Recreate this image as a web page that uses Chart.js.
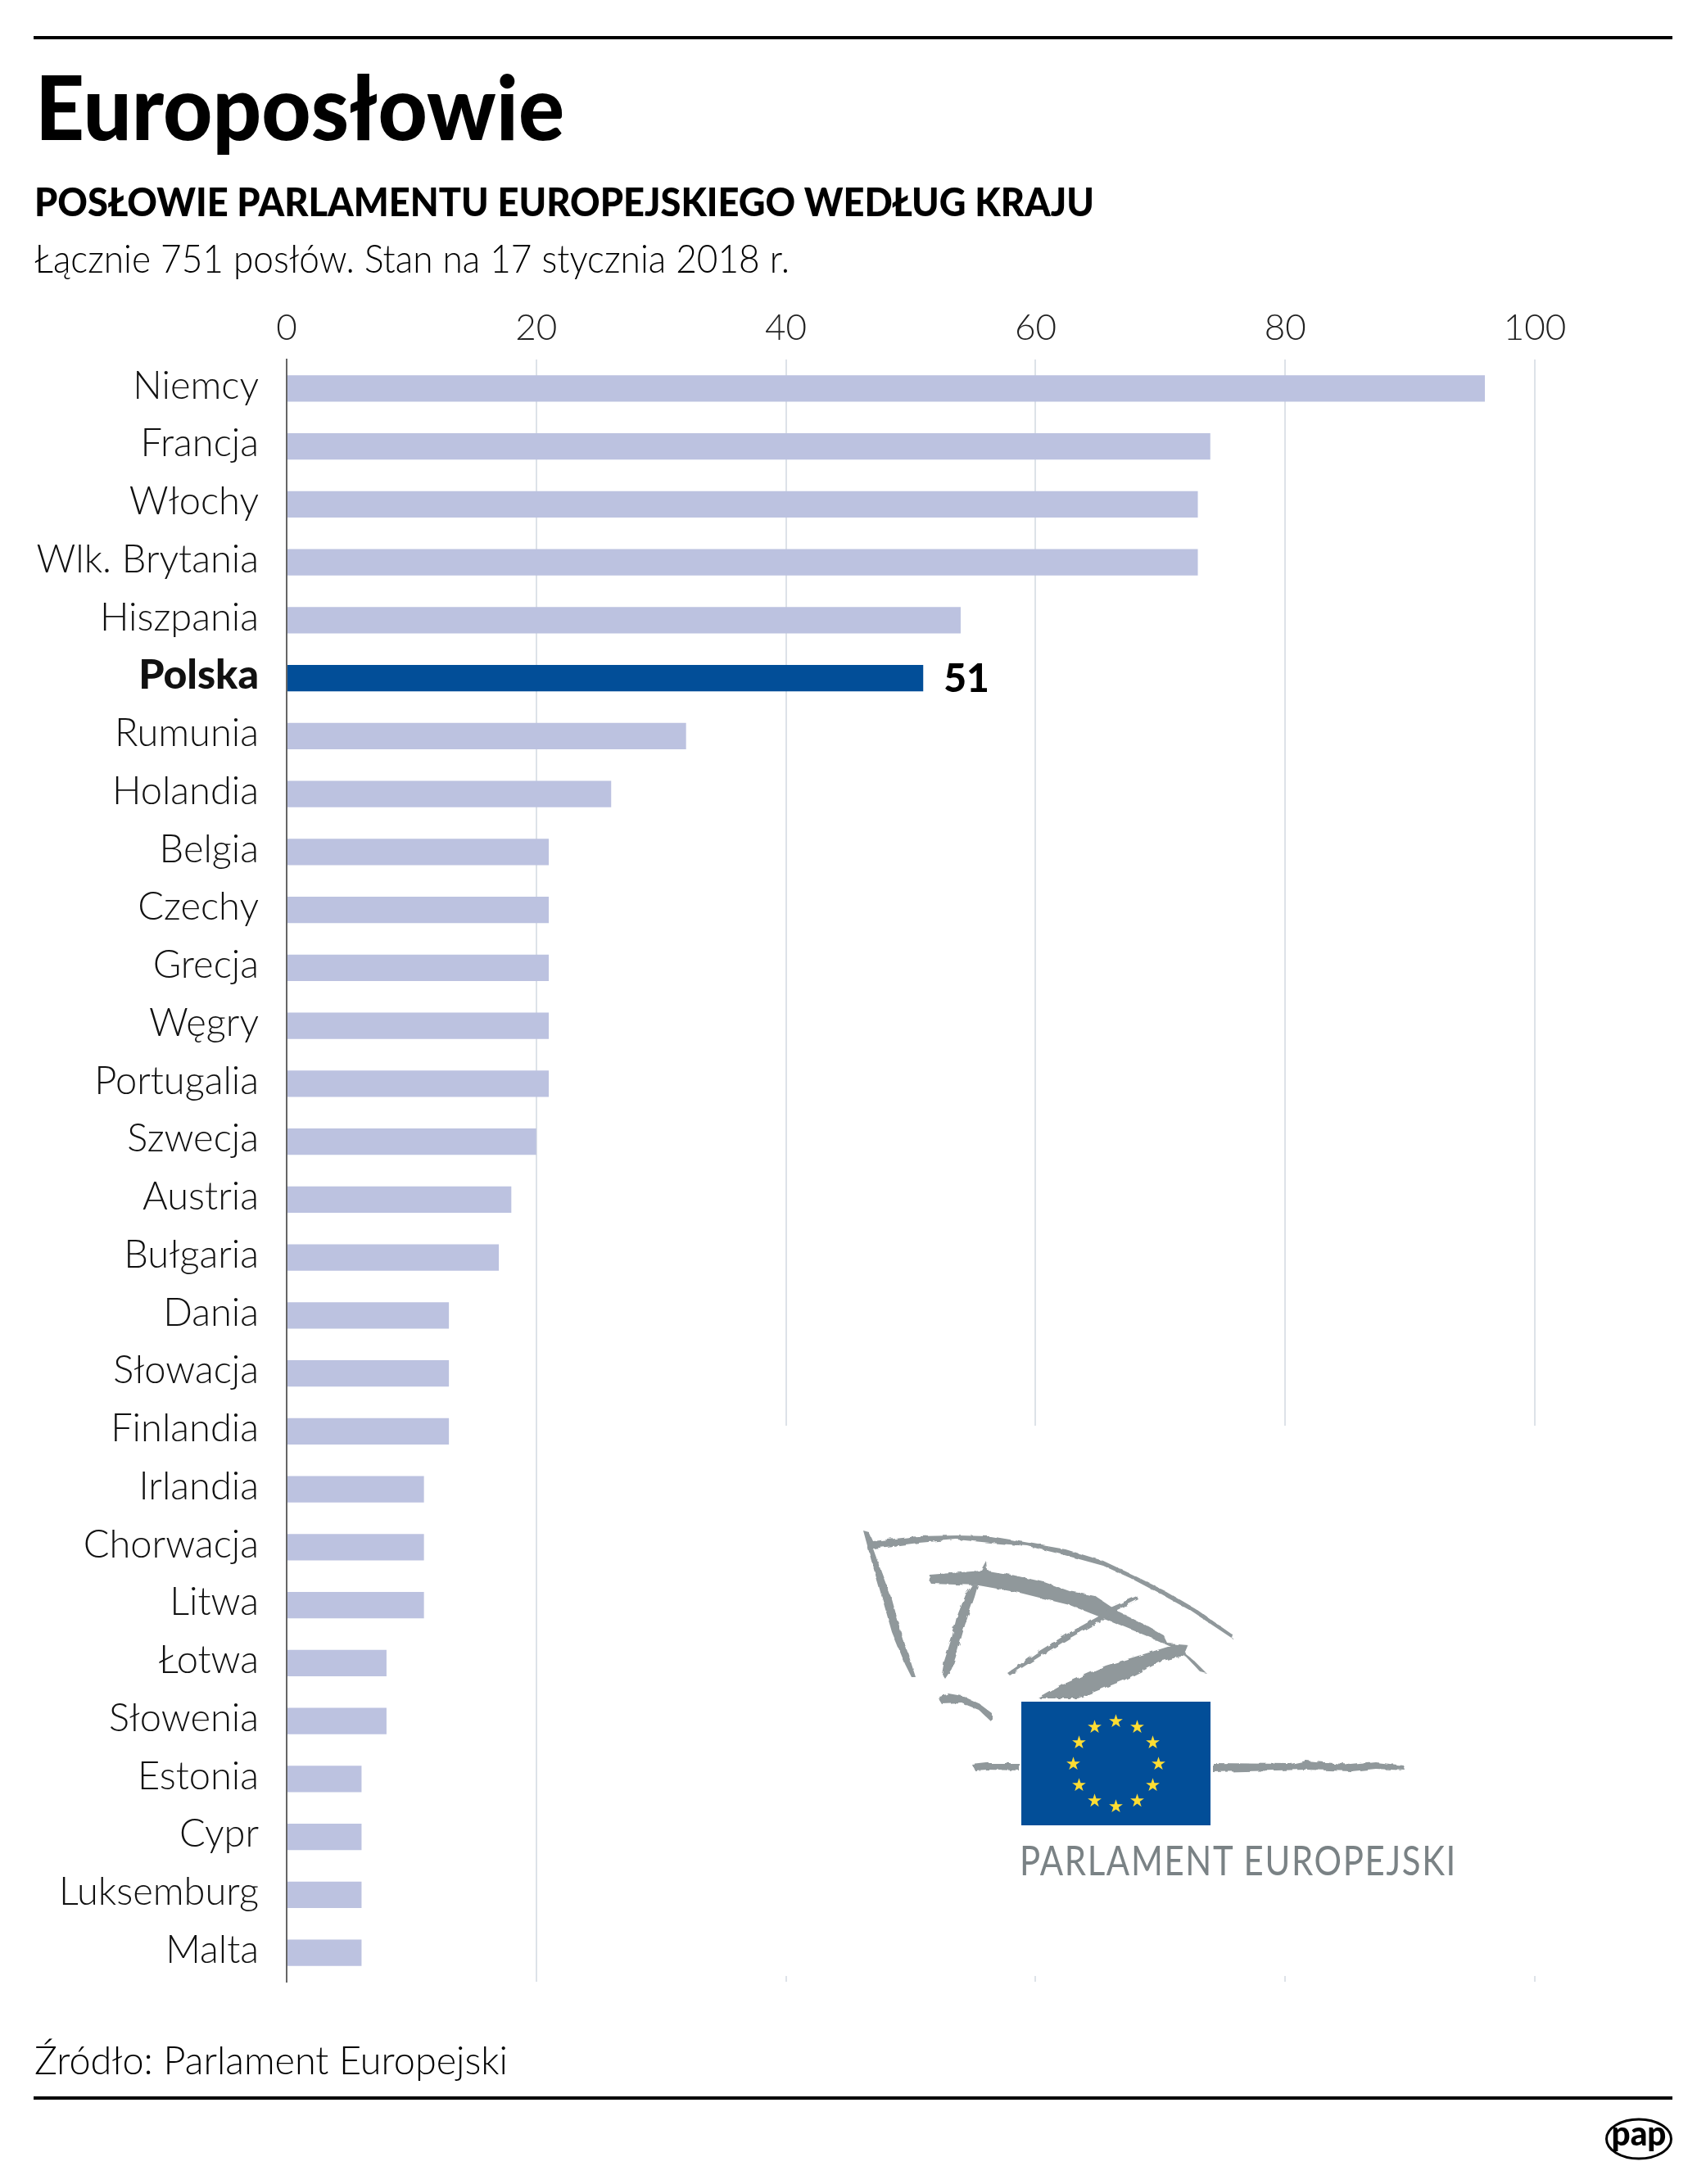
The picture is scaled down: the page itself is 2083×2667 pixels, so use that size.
<!DOCTYPE html>
<html>
<head>
<meta charset="utf-8">
<script src="https://cdn.jsdelivr.net/npm/chart.js@4"></script>
<style>
  html, body { margin: 0; padding: 0; background: #fff; }
  #wrap { position: relative; width: 2083px; height: 2667px; overflow: hidden; }
  #chart { position: absolute; left: 0; top: 0; }
  #overlay { position: absolute; left: 0; top: 0; }
  text { font-family: Lato, sans-serif; fill: #000; }
</style>
</head>
<body>
<div id="wrap">
  <canvas id="chart" width="2083" height="2667"></canvas>
  <svg id="overlay" width="2083" height="2667" viewBox="0 0 2083 2667">
    <defs>
      <filter id="rough" x="-5%" y="-5%" width="110%" height="110%">
        <feTurbulence type="fractalNoise" baseFrequency="0.12" numOctaves="2" seed="4"/>
        <feDisplacementMap in="SourceGraphic" scale="5"/>
      </filter>
    </defs>
    <rect x="41" y="44" width="2001" height="4" fill="#000"/>
    <rect x="41" y="2560" width="2001" height="4" fill="#000"/>
    <text x="43" y="171" font-size="108" font-weight="900" textLength="646" lengthAdjust="spacingAndGlyphs">Europosłowie</text>
    <text x="42" y="264" font-size="48" font-weight="900" textLength="1294" lengthAdjust="spacingAndGlyphs">POSŁOWIE PARLAMENTU EUROPEJSKIEGO WEDŁUG KRAJU</text>
    <text x="42" y="333" font-size="48" font-weight="300" textLength="922" lengthAdjust="spacingAndGlyphs">Łącznie 751 posłów. Stan na 17 stycznia 2018 r.</text>
    <text x="42" y="2533" font-size="48" font-weight="300" textLength="578" lengthAdjust="spacingAndGlyphs">Źródło: Parlament Europejski</text>

    <!-- biala plama pod logo, zaslania linie siatki -->
    <rect x="700" y="1741" width="1300" height="672" fill="#fff"/>

    <!-- logo PE -->
    <g fill="#90989b" filter="url(#rough)">
      <path d="M1054 1869 L1061 1871 L1066 1882 L1120 1876 L1168 1875 L1209 1876 L1245 1882 L1301 1892 L1347 1906 L1383 1923 L1423 1943 L1459 1964 L1506 1997 L1505 2001 L1454 1967 L1418 1947 L1380 1927 L1347 1912 L1296 1898 L1255 1888 L1209 1884 L1168 1880 L1122 1884 L1066 1891 L1076 1919 L1089 1953 L1100 1993 L1110 2023 L1118 2048 L1113 2048 L1105 2032 L1089 1993 L1079 1958 L1064 1906 Z"/>
      <path d="M1135 1923 L1199 1918 L1205 1907 L1206 1918 L1235 1923 L1275 1932 L1306 1943 L1337 1949 L1367 1969 L1398 1984 L1421 1997 L1426 2007 L1451 2009 L1441 2014 L1458 2028 L1473 2043 L1465 2041 L1447 2022 L1432 2012 L1408 2001 L1357 1980 L1306 1960 L1245 1945 L1195 1936 L1137 1934 L1134 1929 Z"/>
      <path d="M1187 1935 L1194 1936 L1190 1950 L1178 1985 L1168 2020 L1162 2038 L1154 2050 L1150 2044 L1153 2028 L1162 2000 L1168 1975 L1180 1945 Z"/>
      <path d="M1388 1949 L1390 1953 L1358 1969 L1343 1980 L1307 2000 L1271 2022 L1233 2046 L1230 2043 L1269 2016 L1305 1994 L1341 1974 L1356 1963 Z"/>
      <path d="M1268 2074 L1300 2056 L1350 2034 L1426 2011 L1450 2010 L1445 2022 L1420 2028 L1372 2052 L1316 2074 Z"/>
      <path d="M1145 2073 L1158 2068 L1175 2071 L1195 2080 L1211 2092 L1211 2103 L1195 2088 L1175 2080 L1150 2081 Z"/>
      <path d="M1187 2155 L1205 2153 L1244 2153 L1244 2162 L1205 2161 L1190 2162 Z"/>
      <path d="M1481 2153 L1576 2154 L1595 2150 L1650 2155 L1680 2152 L1714 2156 L1716 2162 L1680 2160 L1650 2163 L1595 2161 L1481 2164 Z"/>
    </g>
    <rect x="1247" y="2078" width="231" height="151" fill="#024e98"/>
    <g id="stars" fill="#ffdd33"></g>
    <text x="1245" y="2290" font-size="50" font-weight="400" style="fill:#7a8285;letter-spacing:2px" textLength="534" lengthAdjust="spacingAndGlyphs">PARLAMENT EUROPEJSKI</text>

    <!-- pap -->
    <ellipse cx="2001" cy="2612" rx="39.5" ry="24" fill="#fff" stroke="#000" stroke-width="3"/>
    <text x="2001" y="2620" font-size="42" font-weight="900" text-anchor="middle" textLength="67" lengthAdjust="spacingAndGlyphs">pap</text>
  </svg>
</div>
<script>
const countries = ['Niemcy','Francja','Włochy','Wlk. Brytania','Hiszpania','Polska','Rumunia','Holandia','Belgia','Czechy','Grecja','Węgry','Portugalia','Szwecja','Austria','Bułgaria','Dania','Słowacja','Finlandia','Irlandia','Chorwacja','Litwa','Łotwa','Słowenia','Estonia','Cypr','Luksemburg','Malta'];
const mandates = [96,74,73,73,54,51,32,26,21,21,21,21,21,20,18,17,13,13,13,11,11,11,8,8,6,6,6,6];
const xTicks = [0,20,40,60,80,100];
const highlight = 'Polska';

const fontName = 'Lato, sans-serif';

// gwiazdki na fladze
const starsG = document.getElementById('stars');
for (let i = 0; i < 12; i++) {
  let a = i * Math.PI / 6, cx = 1362.5 + 52 * Math.sin(a), cy = 2154 - 52 * Math.cos(a), pts = [];
  for (let k = 0; k < 10; k++) {
    let r = k % 2 ? 3.4 : 8.8, b = k * Math.PI / 5;
    pts.push((cx + r * Math.sin(b)).toFixed(1) + ',' + (cy - r * Math.cos(b)).toFixed(1));
  }
  let s = document.createElementNS('http://www.w3.org/2000/svg', 'polygon');
  s.setAttribute('points', pts.join(' '));
  starsG.appendChild(s);
}

// podpis 51 przy Polsce
const valueLabel = {
  id: 'valueLabel',
  afterDatasetsDraw(chart) {
    let i = countries.indexOf(highlight);
    let bar = chart.getDatasetMeta(0).data[i];
    let c = chart.ctx;
    c.save();
    c.font = '900 48px ' + fontName;
    c.fillStyle = '#000';
    c.textBaseline = 'middle';
    c.fillText(mandates[i], bar.x + 25, bar.y + 1);
    c.restore();
  }
};

let ctx = document.getElementById('chart').getContext('2d');
let myChart = new Chart(ctx, {
  type: 'bar',
  plugins: [valueLabel],
  data: {
    labels: countries,
    datasets: [{
      data: mandates,
      backgroundColor: countries.map(n => n === highlight ? '#024e98' : '#bcc2e0'),
      barPercentage: 0.453,
      categoryPercentage: 1
    }]
  },
  options: {
    indexAxis: 'y',
    responsive: false,
    animation: false,
    layout: { padding: { left: 0, top: 0, right: 209, bottom: 247 } },
    plugins: { legend: { display: false }, tooltip: { enabled: false } },
    scales: {
      x: {
        position: 'top',
        min: 0,
        max: 100,
        afterBuildTicks: s => { s.ticks = xTicks.map(v => ({ value: v })); },
        afterFit: s => { s.height = 439; },
        border: { display: false },
        grid: { color: '#dde2e8', lineWidth: 2, tickLength: 0 },
        ticks: { color: '#222', padding: 12, maxRotation: 0, font: { family: fontName, size: 44, weight: '300' } }
      },
      y: {
        afterFit: s => { s.width = 350; },
        border: { display: true, color: '#666', width: 2 },
        grid: { display: false },
        ticks: {
          color: '#111',
          padding: 26,
          labelOffset: -3,
          autoSkip: false,
          font: c => ({
            family: fontName,
            size: countries[c.index] === highlight ? 50 : 47,
            weight: countries[c.index] === highlight ? '900' : '300'
          })
        }
      }
    }
  }
});
</script>
</body>
</html>
